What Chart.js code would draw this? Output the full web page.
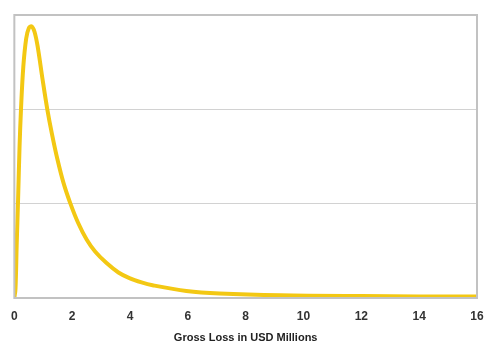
<!DOCTYPE html>
<html>
<head>
<meta charset="utf-8">
<script src="https://cdn.jsdelivr.net/npm/chart.js@4"></script>
<style>
  html, body { margin: 0; padding: 0; background: #fff; }
  #wrap { width: 500px; height: 355px; position: relative; }
</style>
</head>
<body>
<div id="wrap"><canvas id="c"></canvas></div>
<script>
// Gross loss (USD millions)
const lossX = [0, 0.04, 0.08, 0.13, 0.18, 0.23, 0.31, 0.41, 0.5, 0.6, 0.7, 0.81, 0.97, 1.14, 1.3, 1.49, 1.7, 1.94, 2.2, 2.5, 2.8, 3.19, 3.6, 3.98, 4.4, 4.78, 5.95, 7.1, 9.2, 12, 16];
// Relative density (gridline units)
const density = [0, 0.1, 0.55, 1.05, 1.6, 2.0, 2.45, 2.75, 2.86, 2.88, 2.82, 2.66, 2.33, 2.0, 1.74, 1.47, 1.22, 1.0, 0.8, 0.62, 0.49, 0.37, 0.27, 0.21, 0.165, 0.135, 0.075, 0.048, 0.028, 0.02, 0.015];
const xTicks = [0, 2, 4, 6, 8, 10, 12, 14, 16];
const xTitle = 'Gross Loss in USD Millions';

const frame = {
  id: 'frame',
  afterDraw(chart) {
    const a = chart.chartArea, ctx = chart.ctx;
    ctx.save();
    ctx.strokeStyle = '#c2c2c2';
    ctx.lineWidth = 2;
    ctx.strokeRect(a.left, a.top, a.right - a.left, a.bottom - a.top);
    ctx.restore();
  }
};

new Chart(document.getElementById('c'), {
  type: 'line',
  data: {
    datasets: [{
      data: lossX.map((x, i) => ({ x: x, y: density[i] })),
      borderColor: '#F3C813',
      borderWidth: 4,
      pointRadius: 0,
      fill: false,
      tension: 0.35
    }]
  },
  options: {
    responsive: true,
    maintainAspectRatio: false,
    animation: false,
    layout: { padding: { left: 14, right: 23, top: 15, bottom: 0 } },
    plugins: { legend: { display: false }, tooltip: { enabled: false } },
    scales: {
      x: {
        type: 'linear',
        min: 0, max: 16,
        afterBuildTicks(scale) { scale.ticks = xTicks.map(v => ({ value: v })); },
        afterFit(scale) { scale.height = 57; },
        grid: { display: false, drawTicks: false },
        border: { display: false },
        ticks: {
          padding: 11,
          color: '#333',
          font: { family: 'Liberation Sans, Arial', size: 12, weight: 'bold' },
          maxRotation: 0
        },
        title: {
          display: true,
          text: xTitle,
          color: '#222',
          font: { family: 'Liberation Sans, Arial', size: 11, weight: 'bold' },
          padding: { top: 0, bottom: 10 }
        }
      },
      y: {
        min: 0, max: 3,
        afterFit(scale) { scale.width = 0; },
        ticks: { display: false, stepSize: 1 },
        grid: { color: '#d2d2d2', lineWidth: 1, drawTicks: false },
        border: { display: false }
      }
    }
  },
  plugins: [frame]
});
</script>
</body>
</html>
